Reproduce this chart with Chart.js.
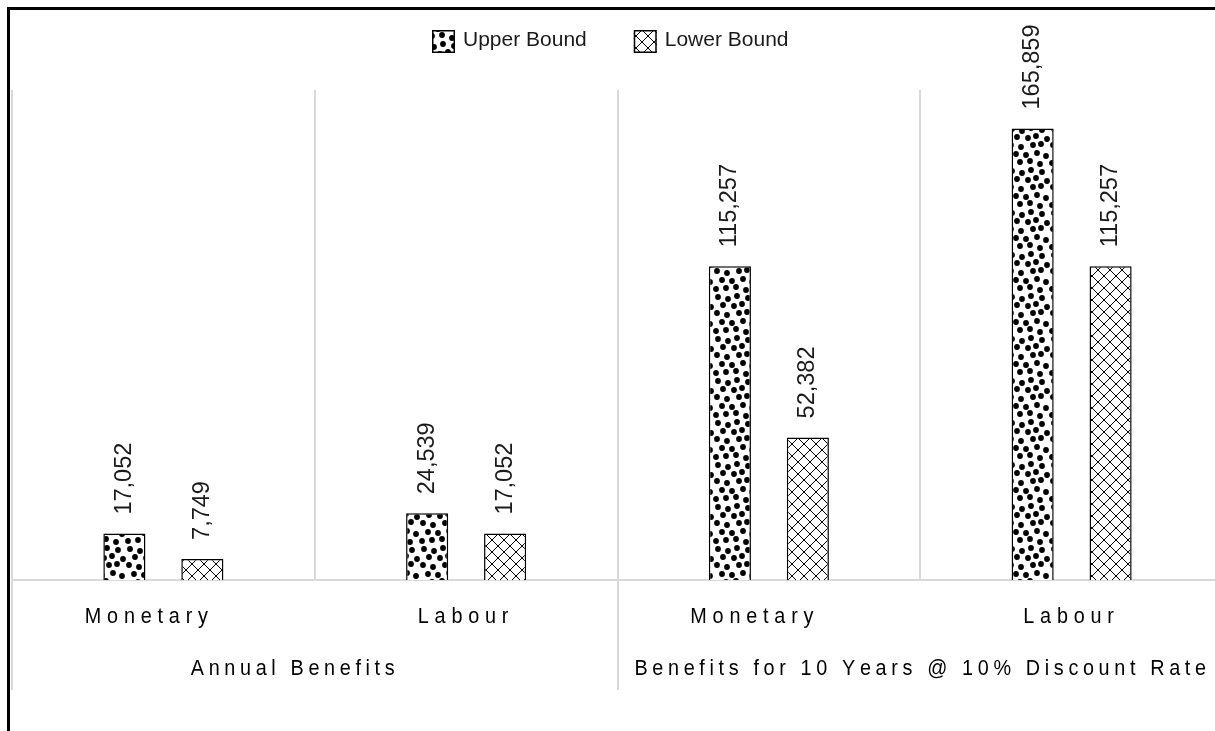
<!DOCTYPE html>
<html>
<head>
<meta charset="utf-8">
<title>Benefits: Upper and Lower Bound</title>
<script src="https://cdn.jsdelivr.net/npm/chart.js@4.4.0/dist/chart.umd.min.js"></script>
<style>
  html, body { margin: 0; padding: 0; background: #fff; overflow: hidden; width: 1215px; height: 731px; }
  #frame { position: absolute; left: 7px; top: 7px; width: 1400px; height: 900px;
           border-top: 3px solid #000; border-left: 3px solid #000; box-sizing: border-box; }
  #wrap { position: absolute; left: 0; top: 0; width: 1240px; height: 731px; }
</style>
</head>
<body>
<div id="frame"></div>
<div id="wrap"><canvas id="chart" width="1240" height="731"></canvas></div>
<script>
// ---- data ----
const categories = ['Monetary', 'Labour', 'Monetary', 'Labour'];
const categoryGroup = [0, 0, 1, 1];
const groups = ['Annual Benefits', 'Benefits for 10 Years @ 10% Discount Rate'];
const seriesNames = ['Upper Bound', 'Lower Bound'];
const upperBound = [17052, 24539, 115257, 165859];
const lowerBound = [7749, 17052, 52382, 115257];
const yMax = 180000;

const canvas = document.getElementById('chart');
const ctx = canvas.getContext('2d');

// scattered-dot fill for the upper bound bars
function makeDotPattern() {
  const s = 42;
  const t = document.createElement('canvas');
  t.width = s; t.height = s;
  const g = t.getContext('2d');
  g.fillStyle = '#fff';
  g.fillRect(0, 0, s, s);
  g.fillStyle = '#000';
  const dots = [
    [4, 3], [14, 5], [23, 2], [34, 4],
    [9, 11], [20, 12], [28, 10], [39, 13],
    [3, 19], [13, 21], [25, 19], [33, 18],
    [8, 28], [18, 29], [29, 27], [38, 30],
    [2, 37], [12, 36], [22, 35], [32, 38]
  ];
  for (const [x, y] of dots) {
    for (const dx of [-s, 0, s]) {
      for (const dy of [-s, 0, s]) {
        g.beginPath();
        g.arc(x + dx, y + dy, 2.9, 0, Math.PI * 2);
        g.fill();
      }
    }
  }
  return ctx.createPattern(t, 'repeat');
}

// diagonal cross-hatch for the lower bound bars
function makeHatchPattern() {
  const s = 12;
  const t = document.createElement('canvas');
  t.width = s; t.height = s;
  const g = t.getContext('2d');
  g.fillStyle = '#fff';
  g.fillRect(0, 0, s, s);
  g.strokeStyle = '#000';
  g.lineWidth = 1;
  g.beginPath();
  g.moveTo(-s, -s); g.lineTo(2 * s, 2 * s);
  g.moveTo(2 * s, -s); g.lineTo(-s, 2 * s);
  g.stroke();
  return ctx.createPattern(t, 'repeat');
}

const dotFill = makeDotPattern();
const hatchFill = makeHatchPattern();

// draws a string with extra tracking, horizontally condensed
function drawTracked(c, text, cx, baseline, font, spacing, squeeze, color) {
  c.save();
  c.font = font;
  c.fillStyle = color;
  c.textAlign = 'left';
  c.textBaseline = 'alphabetic';
  const chars = Array.from(text);
  const widths = chars.map(ch => c.measureText(ch).width * squeeze);
  const total = widths.reduce((a, b) => a + b, 0) + spacing * (chars.length - 1);
  let x = cx - total / 2;
  chars.forEach((ch, i) => {
    c.save();
    c.translate(x, baseline);
    c.scale(squeeze, 1);
    c.fillText(ch, 0, 0);
    c.restore();
    x += widths[i] + spacing;
  });
  c.restore();
}

// rotated value labels above each bar
const valueLabels = {
  id: 'valueLabels',
  afterDatasetsDraw(chart, args, opts) {
    const c = chart.ctx;
    c.save();
    c.font = opts.font;
    c.fillStyle = opts.color;
    c.textAlign = 'left';
    c.textBaseline = 'middle';
    chart.data.datasets.forEach((ds, di) => {
      chart.getDatasetMeta(di).data.forEach((bar, i) => {
        c.save();
        c.translate(bar.x, bar.y - opts.gap);
        c.rotate(-Math.PI / 2);
        c.fillText(ds.data[i].toLocaleString('en-US'), 0, 0);
        c.restore();
      });
    });
    c.restore();
  }
};

// two-level category axis: category names and group names, with group dividers
const groupAxis = {
  id: 'groupAxis',
  afterDraw(chart, args, opts) {
    const c = chart.ctx;
    const xs = chart.scales.x;
    const area = chart.chartArea;
    const n = chart.data.labels.length;
    const edge = i => i === 0 ? area.left : (i === n ? area.right
      : (xs.getPixelForTick(i - 1) + xs.getPixelForTick(i)) / 2);

    // category labels
    chart.data.labels.forEach((lab, i) => {
      const cx = xs.getPixelForTick(i) + (opts.categoryShift[lab] || 0);
      drawTracked(c, lab, cx, opts.categoryBaseline, opts.categoryFont,
        opts.categorySpacing, opts.squeeze, opts.color);
    });

    // group dividers and labels
    c.save();
    c.strokeStyle = opts.lineColor;
    c.lineWidth = 2;
    groups.forEach((g, gi) => {
      const idx = categoryGroup.map((v, i) => v === gi ? i : -1).filter(i => i >= 0);
      const x0 = edge(idx[0]);
      const x1 = edge(idx[idx.length - 1] + 1);
      [x0, x1].forEach(x => {
        const px = Math.round(x);
        c.beginPath();
        c.moveTo(px, area.bottom);
        c.lineTo(px, opts.dividerBottom);
        c.stroke();
      });
      drawTracked(c, g, (x0 + x1) / 2 + opts.groupShift[gi], opts.groupBaseline,
        opts.groupFont, opts.groupSpacing, opts.squeeze, opts.color);
    });
    c.restore();
  }
};

// legend with pattern swatches
const patternLegend = {
  id: 'patternLegend',
  afterDraw(chart, args, opts) {
    const c = chart.ctx;
    c.save();
    c.font = opts.font;
    c.textAlign = 'left';
    c.textBaseline = 'alphabetic';
    let x = opts.x;
    chart.data.datasets.forEach(ds => {
      c.fillStyle = ds.backgroundColor;
      c.fillRect(x, opts.y, opts.box, opts.box);
      c.strokeStyle = '#000';
      c.lineWidth = 1.5;
      c.strokeRect(x + 0.75, opts.y + 0.75, opts.box - 1.5, opts.box - 1.5);
      c.fillStyle = opts.color;
      const tx = x + opts.box + opts.textGap;
      c.fillText(ds.label, tx, opts.baseline);
      x = tx + c.measureText(ds.label).width + opts.itemGap;
    });
    c.restore();
  }
};

new Chart(ctx, {
  type: 'bar',
  data: {
    labels: categories,
    datasets: [
      {
        label: seriesNames[0],
        data: upperBound,
        backgroundColor: dotFill,
        borderColor: '#000',
        borderWidth: 1.5,
        categoryPercentage: 0.515,
        barPercentage: 0.54
      },
      {
        label: seriesNames[1],
        data: lowerBound,
        backgroundColor: hatchFill,
        borderColor: '#000',
        borderWidth: 1.5,
        categoryPercentage: 0.515,
        barPercentage: 0.54
      }
    ]
  },
  options: {
    responsive: false,
    animation: false,
    devicePixelRatio: 1,
    layout: { padding: { left: 12, right: 17, top: 90, bottom: 151 } },
    plugins: {
      legend: { display: false },
      tooltip: { enabled: false },
      valueLabels: { font: '23.5px "Liberation Sans", Arial, sans-serif', color: '#1a1a1a', gap: 19 },
      groupAxis: {
        color: '#000',
        lineColor: '#d9d9d9',
        squeeze: 0.9,
        categoryFont: '22px "Liberation Sans", Arial, sans-serif',
        categorySpacing: 5.8,
        categoryBaseline: 623,
        categoryShift: { Monetary: -17, Labour: -3 },
        groupFont: '22px "Liberation Sans", Arial, sans-serif',
        groupSpacing: 4.65,
        groupBaseline: 675,
        groupShift: [-22, 0],
        dividerBottom: 690
      },
      patternLegend: {
        font: '21px "Liberation Sans", Arial, sans-serif',
        color: '#1a1a1a',
        x: 432, y: 30, box: 23, textGap: 8, itemGap: 47, baseline: 46
      }
    },
    scales: {
      x: {
        z: 1,
        grid: { offset: true, color: '#d9d9d9', lineWidth: 2, drawTicks: false },
        border: { display: true, color: '#d9d9d9', width: 2 },
        ticks: { display: false },
        afterFit(scale) { scale.height = 0; }
      },
      y: {
        display: false,
        min: 0,
        max: yMax
      }
    }
  },
  plugins: [valueLabels, groupAxis, patternLegend]
});
</script>
</body>
</html>
